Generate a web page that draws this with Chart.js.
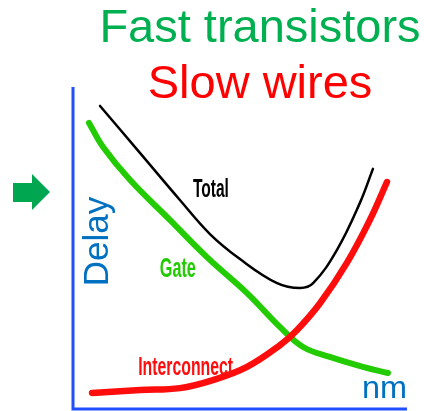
<!DOCTYPE html>
<html>
<head>
<meta charset="utf-8">
<script src="https://cdn.jsdelivr.net/npm/chart.js@4.4.0/dist/chart.umd.min.js"></script>
<style>
  html, body { margin: 0; padding: 0; background: #fff; }
  canvas { display: block; }
</style>
</head>
<body>
<canvas id="delayChart" width="424" height="411"></canvas>
<script>
// ── Data (arbitrary units, feature size along x, delay along y) ──────────
const TOTAL_X = [8.1, 20.1, 32.0, 41.0, 50.0, 61.1, 68.0, 71.9, 79.0, 85.9, 89.8];
const TOTAL_Y = [94.1, 79.4, 64.8, 54.2, 46.4, 38.9, 37.4, 38.9, 49.2, 63.9, 74.5];

const GATE_X = [4.8, 9.0, 17.1, 29.0, 40.1, 52.1, 62.0, 68.9, 76.9, 86.8, 94.3];
const GATE_Y = [88.8, 81.3, 71.0, 58.6, 47.0, 35.8, 25.2, 19.0, 15.9, 12.8, 10.9];

const WIRE_X = [5.7, 20.1, 32.0, 41.9, 52.1, 62.0, 67.1, 74.0, 82.0, 88.9, 94.0];
const WIRE_Y = [4.7, 5.6, 6.2, 8.7, 12.8, 19.6, 24.3, 32.7, 45.2, 58.6, 70.4];

const SERIES_NAMES = ['Total', 'Interconnect', 'Gate'];
const TITLE_LINES = ['Fast transistors', 'Slow wires'];
const AXIS_X_LABEL = 'nm';
const AXIS_Y_LABEL = 'Delay';

const pts = (xs, ys) => xs.map((x, i) => ({ x, y: ys[i] }));

const BLUE_AXIS = '#1f4fff';
const BLUE_TEXT = '#0070c0';
const GREEN_LINE = '#22cc00';
const RED = '#ff0d0d';

// draw text squeezed to a given width (labels in the source are condensed)
function fitText(ctx, text, x, y, size, color, width, font) {
  ctx.save();
  ctx.font = `${font || ''} ${size}px "Liberation Sans", Arial, sans-serif`;
  ctx.fillStyle = color;
  ctx.textBaseline = 'alphabetic';
  ctx.textAlign = 'left';
  const w = ctx.measureText(text).width;
  ctx.translate(x, y);
  if (width) ctx.scale(width / w, 1);
  ctx.fillText(text, 0, 0);
  ctx.restore();
}

const decorations = {
  id: 'decorations',
  beforeDatasetsDraw(chart) {
    const { ctx, chartArea: a } = chart;
    ctx.save();
    ctx.strokeStyle = BLUE_AXIS;
    ctx.lineWidth = 3;
    ctx.beginPath();
    ctx.moveTo(a.left, a.top);
    ctx.lineTo(a.left, a.bottom + 2.5);
    ctx.moveTo(a.left - 1.5, a.bottom + 1);
    ctx.lineTo(a.right, a.bottom + 1);
    ctx.stroke();

    // green arrow at the left
    ctx.fillStyle = '#00a650';
    ctx.beginPath();
    ctx.moveTo(13, 183);
    ctx.lineTo(32, 183);
    ctx.lineTo(32, 174);
    ctx.lineTo(50, 192);
    ctx.lineTo(32, 210);
    ctx.lineTo(32, 202);
    ctx.lineTo(13, 202);
    ctx.closePath();
    ctx.fill();
    ctx.restore();
  },
  afterDraw(chart) {
    const { ctx, scales: { x, y } } = chart;

    // title lines
    ctx.save();
    ctx.font = '47px "Liberation Sans", Arial, sans-serif';
    ctx.textAlign = 'center';
    ctx.textBaseline = 'alphabetic';
    ctx.fillStyle = '#00b050';
    ctx.fillText(TITLE_LINES[0], 260, 42);
    ctx.fillStyle = '#ff0000';
    ctx.fillText(TITLE_LINES[1], 260, 98);
    ctx.restore();

    // axis labels
    ctx.save();
    ctx.translate(108, 241.5);
    ctx.rotate(-Math.PI / 2);
    ctx.font = '35px "Liberation Sans", Arial, sans-serif';
    ctx.fillStyle = BLUE_TEXT;
    ctx.textAlign = 'center';
    ctx.fillText(AXIS_Y_LABEL, 0, 0);
    ctx.restore();
    fitText(ctx, AXIS_X_LABEL, 362, 398, 32, BLUE_TEXT, 45);

    // curve labels
    fitText(ctx, SERIES_NAMES[0], x.getPixelForValue(35.9), y.getPixelForValue(65.7), 26, '#000', 36, 'bold');
    fitText(ctx, SERIES_NAMES[2], x.getPixelForValue(26.0), y.getPixelForValue(40.8), 27, GREEN_LINE, 36, 'bold');
    fitText(ctx, SERIES_NAMES[1], x.getPixelForValue(19.5), y.getPixelForValue(10.3), 25, RED, 95, 'bold');
  }
};

new Chart(document.getElementById('delayChart').getContext('2d'), {
  type: 'line',
  data: {
    datasets: [
      { label: SERIES_NAMES[0], data: pts(TOTAL_X, TOTAL_Y), borderColor: '#000', borderWidth: 2.5 },
      { label: SERIES_NAMES[1], data: pts(WIRE_X, WIRE_Y), borderColor: RED, borderWidth: 6.5 },
      { label: SERIES_NAMES[2], data: pts(GATE_X, GATE_Y), borderColor: GREEN_LINE, borderWidth: 6 },
    ].map(d => Object.assign(d, {
      pointRadius: 0, tension: 0.4, borderCapStyle: 'round',
      borderJoinStyle: 'round', fill: false, clip: false,
    }))
  },
  options: {
    responsive: false,
    animation: false,
    devicePixelRatio: 1,
    layout: { padding: { left: 73, right: 17, top: 87, bottom: 3 } },
    scales: {
      x: { type: 'linear', min: 0, max: 100, display: false },
      y: { type: 'linear', min: 0, max: 100, display: false },
    },
    plugins: { legend: { display: false }, tooltip: { enabled: false } }
  },
  plugins: [decorations]
});
</script>
</body>
</html>
